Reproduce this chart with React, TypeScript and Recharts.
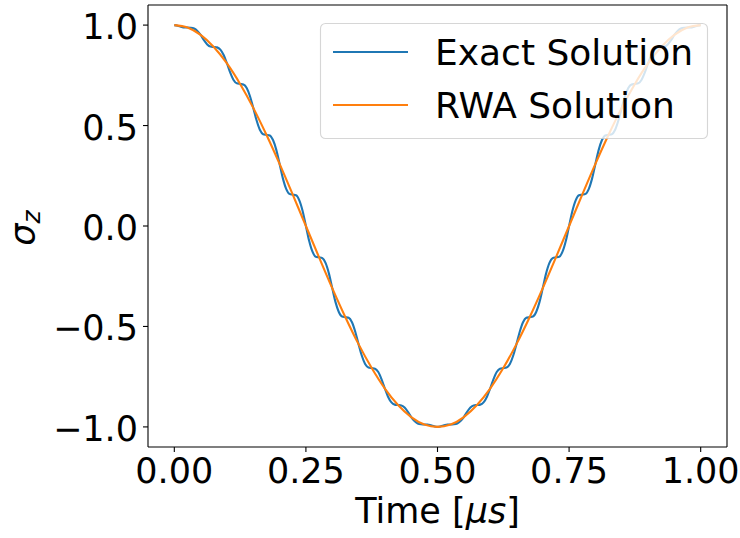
import React from 'react';
import { LineChart, Line, XAxis, YAxis, ReferenceLine } from 'recharts';

const EXACT_T = [
  0, 0.00625, 0.0125, 0.01875, 0.025, 0.03125, 0.0375, 0.04375,
  0.05, 0.05625, 0.0625, 0.06875, 0.075, 0.08125, 0.0875, 0.09375,
  0.1, 0.10625, 0.1125, 0.11875, 0.125, 0.13125, 0.1375, 0.14375,
  0.15, 0.15625, 0.1625, 0.16875, 0.175, 0.18125, 0.1875, 0.19375,
  0.2, 0.20625, 0.2125, 0.21875, 0.225, 0.23125, 0.2375, 0.24375,
  0.25, 0.25625, 0.2625, 0.26875, 0.275, 0.28125, 0.2875, 0.29375,
  0.3, 0.30625, 0.3125, 0.31875, 0.325, 0.33125, 0.3375, 0.34375,
  0.35, 0.35625, 0.3625, 0.36875, 0.375, 0.38125, 0.3875, 0.39375,
  0.4, 0.40625, 0.4125, 0.41875, 0.425, 0.43125, 0.4375, 0.44375,
  0.45, 0.45625, 0.4625, 0.46875, 0.475, 0.48125, 0.4875, 0.49375,
  0.5, 0.50625, 0.5125, 0.51875, 0.525, 0.53125, 0.5375, 0.54375,
  0.55, 0.55625, 0.5625, 0.56875, 0.575, 0.58125, 0.5875, 0.59375,
  0.6, 0.60625, 0.6125, 0.61875, 0.625, 0.63125, 0.6375, 0.64375,
  0.65, 0.65625, 0.6625, 0.66875, 0.675, 0.68125, 0.6875, 0.69375,
  0.7, 0.70625, 0.7125, 0.71875, 0.725, 0.73125, 0.7375, 0.74375,
  0.75, 0.75625, 0.7625, 0.76875, 0.775, 0.78125, 0.7875, 0.79375,
  0.8, 0.80625, 0.8125, 0.81875, 0.825, 0.83125, 0.8375, 0.84375,
  0.85, 0.85625, 0.8625, 0.86875, 0.875, 0.88125, 0.8875, 0.89375,
  0.9, 0.90625, 0.9125, 0.91875, 0.925, 0.93125, 0.9375, 0.94375,
  0.95, 0.95625, 0.9625, 0.96875, 0.975, 0.98125, 0.9875, 0.99375,
  1.0,
];

const EXACT_Y = [
  1.0, 0.997, 0.992, 0.988, 0.988, 0.987, 0.983, 0.971,
  0.951, 0.925, 0.904, 0.893, 0.891, 0.889, 0.878, 0.851,
  0.809, 0.763, 0.727, 0.71, 0.707, 0.704, 0.687, 0.646,
  0.588, 0.526, 0.479, 0.457, 0.454, 0.451, 0.428, 0.379,
  0.309, 0.237, 0.185, 0.16, 0.156, 0.153, 0.128, 0.075,
  0.0, -0.075, -0.128, -0.153, -0.156, -0.16, -0.185, -0.237,
  -0.309, -0.379, -0.428, -0.451, -0.454, -0.457, -0.479, -0.526,
  -0.588, -0.646, -0.687, -0.704, -0.707, -0.71, -0.727, -0.763,
  -0.809, -0.851, -0.878, -0.889, -0.891, -0.893, -0.904, -0.925,
  -0.951, -0.971, -0.983, -0.987, -0.988, -0.988, -0.992, -0.997,
  -1.0, -0.997, -0.992, -0.988, -0.988, -0.987, -0.983, -0.971,
  -0.951, -0.925, -0.904, -0.893, -0.891, -0.889, -0.878, -0.851,
  -0.809, -0.763, -0.727, -0.71, -0.707, -0.704, -0.687, -0.646,
  -0.588, -0.526, -0.479, -0.457, -0.454, -0.451, -0.428, -0.379,
  -0.309, -0.237, -0.185, -0.16, -0.156, -0.153, -0.128, -0.075,
  0.0, 0.075, 0.128, 0.153, 0.156, 0.16, 0.185, 0.237,
  0.309, 0.379, 0.428, 0.451, 0.454, 0.457, 0.479, 0.526,
  0.588, 0.646, 0.687, 0.704, 0.707, 0.71, 0.727, 0.763,
  0.809, 0.851, 0.878, 0.889, 0.891, 0.893, 0.904, 0.925,
  0.951, 0.971, 0.983, 0.987, 0.988, 0.988, 0.992, 0.997,
  1.0,
];

// RWA solution, every 0.025 us
const RWA_T = [
  0, 0.025, 0.05, 0.075, 0.1, 0.125, 0.15, 0.175, 0.2, 0.225,
  0.25, 0.275, 0.3, 0.325, 0.35, 0.375, 0.4, 0.425, 0.45, 0.475,
  0.5, 0.525, 0.55, 0.575, 0.6, 0.625, 0.65, 0.675, 0.7, 0.725,
  0.75, 0.775, 0.8, 0.825, 0.85, 0.875, 0.9, 0.925, 0.95, 0.975,
  1.0,
];

const RWA_Y = [
  1.0, 0.988, 0.951, 0.891, 0.809, 0.707, 0.588, 0.454, 0.309, 0.156,
  0.0, -0.156, -0.309, -0.454, -0.588, -0.707, -0.809, -0.891, -0.951, -0.988,
  -1.0, -0.988, -0.951, -0.891, -0.809, -0.707, -0.588, -0.454, -0.309, -0.156,
  0.0, 0.156, 0.309, 0.454, 0.588, 0.707, 0.809, 0.891, 0.951, 0.988,
  1.0,
];

const X_TICKS = [0, 0.25, 0.5, 0.75, 1.0];
const Y_TICKS = [-1.0, -0.5, 0.0, 0.5, 1.0];

const SERIES_NAMES = ['Exact Solution', 'RWA Solution'];
const COLORS = ['#1f77b4', '#ff7f0e'];

const FONT = '"DejaVu Sans", sans-serif';
const TICK_SIZE = 35;

const exactData = EXACT_T.map((t, i) => ({ t, y: EXACT_Y[i] }));
const rwaData = RWA_T.map((t, i) => ({ t, y: RWA_Y[i] }));

const fmtY = (v: number) => (v < 0 ? '\u2212' : '') + Math.abs(v).toFixed(1);

const XTick = (props: any) => {
  const { x, y, payload } = props;
  return (
    <text x={x} y={y} dy={29} textAnchor="middle" fontSize={TICK_SIZE} fontFamily={FONT} fill="#000">
      {payload.value.toFixed(2)}
    </text>
  );
};

const YTick = (props: any) => {
  const { x, y, payload } = props;
  return (
    <text x={x} y={y} dx={-3} dy={14} textAnchor="end" fontSize={TICK_SIZE} fontFamily={FONT} fill="#000">
      {fmtY(payload.value)}
    </text>
  );
};

export default function App() {
  return (
    <div style={{ position: 'absolute', left: 0, top: 0, width: 740, height: 538, background: '#fff' }}>
      <LineChart width={740} height={538} margin={{ top: 5, right: 13, left: 0, bottom: 0 }}>
        <XAxis
          dataKey="t"
          type="number"
          domain={[-0.05, 1.05]}
          allowDataOverflow
          ticks={X_TICKS}
          tick={<XTick />}
          tickSize={5}
          tickLine={{ stroke: '#000', strokeWidth: 1.1 }}
          axisLine={false}
          height={91}
          label={() => (
            <text x={437.5} y={523} textAnchor="middle" fontSize={TICK_SIZE} fontFamily={FONT} fill="#000">
              Time [<tspan fontStyle="italic">μs</tspan>]
            </text>
          )}
        />
        <YAxis
          type="number"
          domain={[-1.1, 1.1]}
          allowDataOverflow
          ticks={Y_TICKS}
          tick={<YTick />}
          tickSize={5}
          tickLine={{ stroke: '#000', strokeWidth: 1.1 }}
          axisLine={false}
          width={148}
          label={() => (
            <text
              x={35}
              y={228}
              transform="rotate(-90, 35, 228)"
              textAnchor="middle"
              fontSize={TICK_SIZE}
              fontFamily={FONT}
              fill="#000"
            >
              <tspan fontStyle="italic">σ</tspan>
              <tspan fontStyle="italic" fontSize={25} dy={5}>z</tspan>
            </text>
          )}
        />
        <Line
          data={exactData}
          dataKey="y"
          type="monotone"
          stroke={COLORS[0]}
          strokeWidth={2.1}
          dot={false}
          isAnimationActive={false}
        />
        <Line
          data={rwaData}
          dataKey="y"
          type="monotone"
          stroke={COLORS[1]}
          strokeWidth={2.1}
          dot={false}
          isAnimationActive={false}
        />
        <ReferenceLine x={-0.05} stroke="#000" strokeWidth={1.1} />
        <ReferenceLine x={1.05} stroke="#000" strokeWidth={1.1} />
        <ReferenceLine y={1.1} stroke="#000" strokeWidth={1.1} />
        <ReferenceLine y={-1.1} stroke="#000" strokeWidth={1.1} />
      </LineChart>
      <svg width={740} height={538} style={{ position: 'absolute', left: 0, top: 0, pointerEvents: 'none' }}>
        <rect x={320.5} y={23.5} width={387} height={115} rx={5} ry={5}
          fill="rgba(255,255,255,0.8)" stroke="rgba(204,204,204,0.8)" strokeWidth={1.1} />
        {SERIES_NAMES.map((name, i) => (
          <g key={name}>
            <line x1={333} x2={408} y1={52 + i * 53} y2={52 + i * 53} stroke={COLORS[i]} strokeWidth={2.1} />
            <text x={435} y={65 + i * 53} fontSize={36} fontFamily={FONT} fill="#000">{name}</text>
          </g>
        ))}
      </svg>
    </div>
  );
}
